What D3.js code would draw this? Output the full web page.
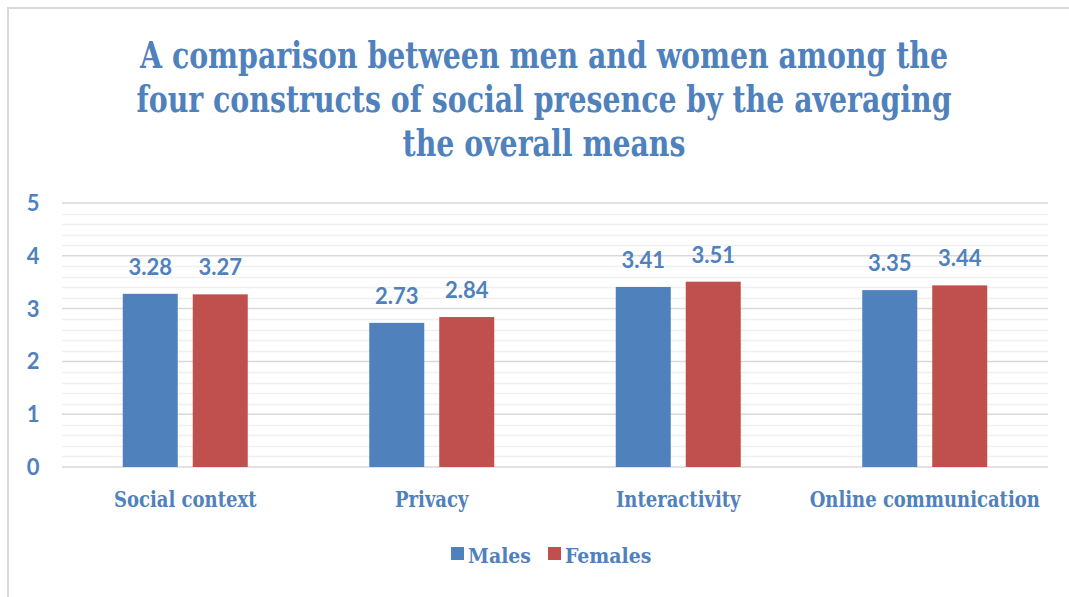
<!DOCTYPE html>
<meta charset="utf-8">
<style>
body { margin: 0; background: #fff; }
.serif { font-family: "DejaVu Serif Condensed", "DejaVu Serif", serif; font-weight: bold; }
.sans { font-family: Lato, "Liberation Sans", sans-serif; font-weight: bold; }
</style>
<body>
<script src="https://d3js.org/d3.v7.min.js"></script>
<script>

const titleLines = [
  "A comparison between men and women among the",
  "four constructs of social presence by the averaging",
  "the overall means"
];

const categories = ["Social context", "Privacy", "Interactivity", "Online communication"];

const seriesNames = ["Males", "Females"];

const males = [3.28, 2.73, 3.41, 3.35];

const females = [3.27, 2.84, 3.51, 3.44];

const yTicks = [0, 1, 2, 3, 4, 5];

const colors = ["#4F81BD", "#C0504D"];

const textColor = "#4F81BD";

const width = 1069, height = 597;
const margin = {top: 203, right: 21, bottom: 130, left: 62};
const innerWidth = width - margin.left - margin.right;
const innerHeight = height - margin.top - margin.bottom;

const rows = categories.map((c, i) => ({cat: c, values: [males[i], females[i]]}));

const svg = d3.select("body").append("svg")
    .attr("width", width)
    .attr("height", height);

// chart frame
svg.append("rect")
    .attr("x", 8).attr("y", 8)
    .attr("width", width + 20).attr("height", height + 20)
    .attr("fill", "none")
    .attr("stroke", "#D9D9D9")
    .attr("stroke-width", 2);

// title, squeezed a bit horizontally like the original
svg.append("g")
    .attr("transform", "translate(544,0) scale(0.83,1)")
  .selectAll("text")
  .data(titleLines)
  .join("text")
    .attr("class", "serif")
    .attr("text-anchor", "middle")
    .attr("fill", textColor)
    .style("font-size", "38px")
    .attr("x", 0)
    .attr("y", (d, i) => 68 + i * 44)
    .text(d => d);

const g = svg.append("g")
    .attr("transform", `translate(${margin.left},${margin.top})`);

const x0 = d3.scaleBand()
    .domain(categories)
    .range([0, innerWidth]);

const x1 = d3.scaleBand()
    .domain(seriesNames)
    .range([0, x0.bandwidth()])
    .paddingInner(0.214)
    .paddingOuter(0.868);

const y = d3.scaleLinear()
    .domain([0, 5])
    .range([innerHeight, 0]);

// minor grid
g.append("g")
  .selectAll("line")
  .data(d3.range(0, 5.01, 0.2).filter(v => Math.abs(v - Math.round(v)) > 0.01))
  .join("line")
    .attr("x1", 0).attr("x2", innerWidth)
    .attr("y1", d => Math.round(y(d)) + 0.5).attr("y2", d => Math.round(y(d)) + 0.5)
    .attr("stroke", "#F0F0F0")
    .attr("stroke-width", 1.5);

// major grid
g.append("g")
  .selectAll("line")
  .data(yTicks)
  .join("line")
    .attr("x1", 0).attr("x2", innerWidth)
    .attr("y1", d => y(d)).attr("y2", d => y(d))
    .attr("stroke", "#D9D9D9")
    .attr("stroke-width", 1.5);

// y labels
g.append("g")
  .selectAll("text")
  .data(yTicks)
  .join("text")
    .attr("class", "sans")
    .attr("x", -29)
    .attr("y", d => y(d))
    .attr("dy", "0.36em")
    .attr("text-anchor", "middle")
    .attr("fill", textColor)
    .style("font-size", "22px")
    .text(d => d);

const group = g.selectAll(".cat")
  .data(rows)
  .join("g")
    .attr("class", "cat")
    .attr("transform", d => `translate(${x0(d.cat)},0)`);

const bars = group.selectAll("g.bar")
  .data(d => d.values.map((v, i) => ({name: seriesNames[i], value: v, i: i})))
  .join("g")
    .attr("class", "bar");

bars.append("rect")
    .attr("x", d => x1(d.name))
    .attr("width", x1.bandwidth())
    .attr("y", d => y(d.value))
    .attr("height", d => y(0) - y(d.value))
    .attr("fill", d => colors[d.i]);

bars.append("text")
    .attr("class", "sans")
    .attr("x", d => x1(d.name) + x1.bandwidth() / 2)
    .attr("y", d => y(d.value) - 19)
    .attr("text-anchor", "middle")
    .attr("fill", textColor)
    .style("font-size", "22px")
    .text(d => d.value.toFixed(2));

// category labels
g.append("g")
  .selectAll("g")
  .data(categories)
  .join("g")
    .attr("transform", d => `translate(${x0(d) + x0.bandwidth() / 2},${innerHeight + 40}) scale(0.91,1)`)
  .append("text")
    .attr("class", "serif")
    .attr("text-anchor", "middle")
    .attr("fill", textColor)
    .style("font-size", "22px")
    .text(d => d);

// legend
const legendX = [451, 548];
const legend = svg.append("g")
  .selectAll("g")
  .data(seriesNames)
  .join("g")
    .attr("transform", (d, i) => `translate(${legendX[i]},547)`);

legend.append("rect")
    .attr("width", 13).attr("height", 13)
    .attr("fill", (d, i) => colors[i]);

legend.append("text")
    .attr("class", "serif")
    .attr("x", 17)
    .attr("y", 16)
    .attr("fill", textColor)
    .style("font-size", "21px")
    .text(d => d);

</script>
